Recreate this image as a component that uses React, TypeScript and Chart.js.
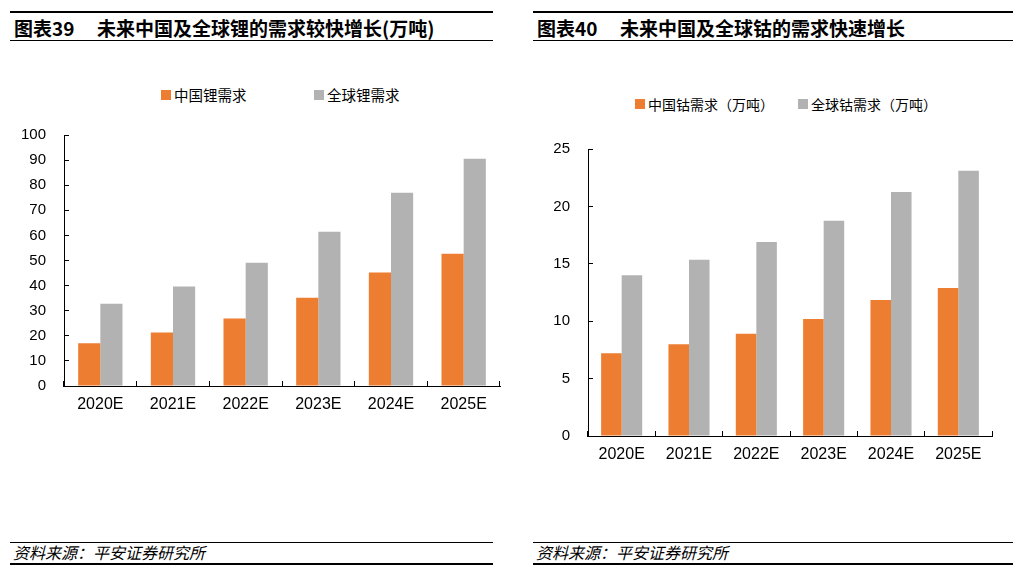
import React, { useEffect, useRef } from "react";
import { Chart, registerables } from "chart.js";

Chart.register(...registerables);

const categories = ["2020E", "2021E", "2022E", "2023E", "2024E", "2025E"];
const chinaLithium = [17, 21.3, 26.9, 35.2, 45.2, 52.7];
const globalLithium = [32.8, 39.6, 49.1, 61.5, 77, 90.5];
const chinaCobalt = [7.2, 8.0, 8.9, 10.2, 11.85, 12.9];
const globalCobalt = [14.0, 15.35, 16.9, 18.75, 21.25, 23.1];

const lithiumLabels = ["中国锂需求", "全球锂需求"];
const cobaltLabels = ["中国钴需求（万吨）", "全球钴需求（万吨）"];

const ORANGE = "#ED7D31";
const GRAY = "#B2B2B2";
const CJK = '"Noto Sans CJK SC", "Noto Sans", sans-serif';
const LAT = '"Liberation Sans", Arial, sans-serif';

type ChartCfg = {
  a: number[];
  b: number[];
  labels: string[];
  max: number;
  step: number;
  yWidth: number;
  padTop: number;
  padRight: number;
};

function BarChart(props: ChartCfg & { style: React.CSSProperties }) {
  const ref = useRef<HTMLCanvasElement | null>(null);
  useEffect(() => {
    if (!ref.current) return;
    const chart = new Chart(ref.current, {
      type: "bar",
      data: {
        labels: categories,
        datasets: [
          {
            label: props.labels[0],
            data: props.a,
            backgroundColor: ORANGE,
            borderWidth: 0,
            categoryPercentage: 0.61,
            barPercentage: 1.0,
          },
          {
            label: props.labels[1],
            data: props.b,
            backgroundColor: GRAY,
            borderWidth: 0,
            categoryPercentage: 0.61,
            barPercentage: 1.0,
          },
        ],
      },
      options: {
        animation: false,
        responsive: false,
        maintainAspectRatio: false,
        devicePixelRatio: 1,
        layout: { padding: { top: props.padTop, right: props.padRight, left: 0, bottom: 0 } },
        plugins: {
          legend: { display: false },
          tooltip: { enabled: false },
        },
        scales: {
          x: {
            offset: true,
            grid: {
              offset: true,
              drawOnChartArea: false,
              drawTicks: true,
              tickLength: -5,
              color: "#000",
              tickColor: "#000",
            },
            border: { display: true, color: "#000", width: 1 },
            ticks: {
              color: "#000",
              font: { family: LAT, size: 16 },
              padding: 14,
              maxRotation: 0,
            },
            afterFit: (s: any) => {
              s.height = 34;
            },
          },
          y: {
            min: 0,
            max: props.max,
            grid: {
              drawOnChartArea: false,
              drawTicks: true,
              tickLength: -5,
              color: "#000",
              tickColor: "#000",
            },
            border: { display: true, color: "#000", width: 1 },
            ticks: {
              stepSize: props.step,
              color: "#000",
              font: { family: LAT, size: 15 },
              padding: 23,
            },
            afterFit: (s: any) => {
              s.width = props.yWidth;
              s.paddingTop = 0;
              s.paddingBottom = 0;
            },
          },
        },
      },
    });
    return () => chart.destroy();
  }, []);
  return <canvas ref={ref} width={props.style.width as number} height={props.style.height as number} style={{ position: "absolute", ...props.style }} />;
}

function Rule({ x1, x2, y }: { x1: number; x2: number; y: number }) {
  return <div style={{ position: "absolute", left: x1, top: y, width: x2 - x1, height: 1.5, background: "#000" }} />;
}

function Txt({ x, y, children, style }: { x: number; y: number; children: React.ReactNode; style?: React.CSSProperties }) {
  return (
    <div
      style={{
        position: "absolute",
        left: x,
        top: y,
        transform: "translateY(-50%)",
        whiteSpace: "nowrap",
        lineHeight: 1,
        color: "#000",
        fontFamily: CJK,
        ...style,
      }}
    >
      {children}
    </div>
  );
}

function Box({ x, y, color }: { x: number; y: number; color: string }) {
  return <div style={{ position: "absolute", left: x, top: y, width: 10, height: 10, background: color }} />;
}

export default function App() {
  const titleStyle: React.CSSProperties = { fontSize: 19, fontWeight: 700 };
  const srcStyle: React.CSSProperties = { fontSize: 16, fontStyle: "italic" };
  const legStyle: React.CSSProperties = { fontSize: 14 };
  const legStyleL: React.CSSProperties = { fontSize: 14.5 };
  return (
    <div style={{ position: "absolute", left: 0, top: 0, width: 1024, height: 579, background: "#fff", overflow: "hidden" }}>
      {/* Left panel header */}
      <Rule x1={10} x2={493} y={11} />
      <Txt x={14} y={27} style={titleStyle}>图表39</Txt>
      <Txt x={97} y={27} style={titleStyle}>未来中国及全球锂的需求较快增长(万吨)</Txt>
      <Rule x1={10} x2={493} y={39.5} />

      {/* Right panel header */}
      <Rule x1={533} x2={1013} y={11} />
      <Txt x={537} y={27} style={titleStyle}>图表40</Txt>
      <Txt x={620} y={27} style={titleStyle}>未来中国及全球钴的需求快速增长</Txt>
      <Rule x1={533} x2={1013} y={39.5} />

      {/* Left legend */}
      <Box x={161} y={89.5} color={ORANGE} />
      <Txt x={174} y={95} style={legStyleL}>{lithiumLabels[0]}</Txt>
      <Box x={314} y={89.5} color={GRAY} />
      <Txt x={327} y={95} style={legStyleL}>{lithiumLabels[1]}</Txt>

      {/* Right legend */}
      <Box x={635} y={98.5} color={ORANGE} />
      <Txt x={648} y={103.5} style={legStyle}>{cobaltLabels[0]}</Txt>
      <Box x={798} y={98.5} color={GRAY} />
      <Txt x={811} y={103.5} style={legStyle}>{cobaltLabels[1]}</Txt>

      <BarChart
        a={chinaLithium}
        b={globalLithium}
        labels={lithiumLabels}
        max={100}
        step={10}
        yWidth={64}
        padTop={15}
        padRight={12}
        style={{ left: 0, top: 120, width: 512, height: 300 }}
      />
      <BarChart
        a={chinaCobalt}
        b={globalCobalt}
        labels={cobaltLabels}
        max={25}
        step={5}
        yWidth={68}
        padTop={19}
        padRight={18}
        style={{ left: 520, top: 130, width: 490, height: 340 }}
      />

      {/* Footers */}
      <Rule x1={10} x2={493} y={541.5} />
      <Txt x={13} y={552} style={srcStyle}>资料来源：平安证券研究所</Txt>
      <Rule x1={10} x2={493} y={563} />
      <Rule x1={533} x2={1013} y={541.5} />
      <Txt x={536} y={552} style={srcStyle}>资料来源：平安证券研究所</Txt>
      <Rule x1={533} x2={1013} y={563} />
    </div>
  );
}
